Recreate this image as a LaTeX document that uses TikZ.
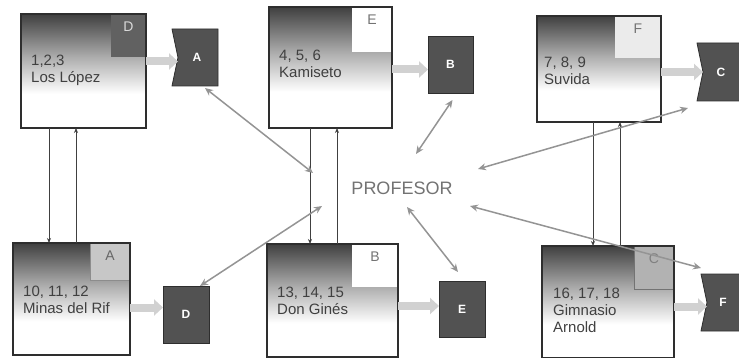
\documentclass[tikz,border=0pt]{standalone}
\usepackage{fontspec}
\setmainfont{Liberation Sans}
\usetikzlibrary{arrows.meta,calc}
\pgfdeclareverticalshading{boxshade}{100bp}{color(0bp)=(white); color(25bp)=(white); color(40bp)=(white); color(56bp)=(black!32); color(75bp)=(black!75); color(100bp)=(black!75)}
\begin{document}
\begin{tikzpicture}[x=1pt,y=-1pt,
  box/.style={shading=boxshade, anchor=north west, inner sep=0pt, outer sep=0pt},
  boxline/.style={draw=black!82, line width=2.6pt},
  corner/.style={anchor=north east, inner sep=0pt, outer sep=0pt},
  cletter/.style={anchor=north, inner sep=0pt, font=\fontsize{14}{16}\selectfont},
  boxtext/.style={anchor=north west, inner sep=0pt, align=left, text=black!75, font=\fontsize{15}{17}\selectfont},
  sq/.style={anchor=north west, inner sep=0pt, outer sep=0pt, fill=black!68, draw=black!82, line width=0.8pt, text=white, font=\bfseries\fontsize{12}{14}\selectfont},
  sqframe/.style={anchor=north west, inner sep=0pt, outer sep=0pt},
  sqfill/.style={fill=black!68, draw=black!82, line width=0.8pt},
  sqtext/.style={text=white, font=\bfseries\fontsize{12}{14}\selectfont, inner sep=0pt},
  fat/.style={draw=black!18, line width=8pt, -{Triangle[length=9pt,width=16pt]}},
  link/.style={draw=black!75, line width=1pt, -{Stealth[length=5pt,width=4pt]}},
  dbl/.style={draw=black!42, line width=1.5pt, {Stealth[length=8pt,width=7pt]}-{Stealth[length=8pt,width=7pt]}}
]
\useasboundingbox (0,0) rectangle (739,358);
\fill[white] (0,0) rectangle (739,358);

% ---- big boxes
\node[box, minimum width=125pt, minimum height=114pt] (b1) at (21,14) {};
\node[box, minimum width=123pt, minimum height=121pt] (b2) at (269,7) {};
\node[box, minimum width=124pt, minimum height=106pt] (b3) at (537,16) {};
\node[box, minimum width=117pt, minimum height=112pt] (b4) at (13,243) {};
\node[box, minimum width=131pt, minimum height=113pt] (b5) at (267,244) {};
\node[box, minimum width=132pt, minimum height=112pt] (b6) at (542,246) {};

% ---- corner squares
\node[corner, fill=black!62, minimum width=35pt, minimum height=43pt] (cD) at (b1.north east) {};
\node[corner, fill=white, minimum width=40pt, minimum height=45pt] (cE) at (b2.north east) {};
\node[corner, fill=black!8, minimum width=46pt, minimum height=42pt] (cF) at (b3.north east) {};
\node[corner, fill=black!22, draw=black!45, line width=0.6pt, minimum width=40pt, minimum height=37pt] (cA) at (b4.north east) {};
\node[corner, fill=white, minimum width=46pt, minimum height=43pt] (cB) at (b5.north east) {};
\node[corner, fill=black!30, draw=black!55, line width=0.6pt, minimum width=40pt, minimum height=43pt] (cC) at (b6.north east) {};

\node[cletter, text=black!15] (lD) at ([yshift=-8pt]cD.north) {D};
\node[cletter, text=black!55] (lE) at ([yshift=-8pt]cE.north) {E};
\node[cletter, text=black!55] (lF) at ([yshift=-8pt]cF.north) {F};
\node[cletter, text=black!60] (lA) at ([yshift=-8pt]cA.north) {A};
\node[cletter, text=black!55] (lB) at ([yshift=-8pt]cB.north) {B};
\node[cletter, text=black!50] (lC) at ([yshift=-8pt]cC.north) {C};

% ---- box borders
\draw[boxline] (b1.south west) rectangle (b1.north east);
\draw[boxline] (b2.south west) rectangle (b2.north east);
\draw[boxline] (b3.south west) rectangle (b3.north east);
\draw[boxline] (b4.south west) rectangle (b4.north east);
\draw[boxline] (b5.south west) rectangle (b5.north east);
\draw[boxline] (b6.south west) rectangle (b6.north east);

% ---- box texts
\node[boxtext] (t1) at ([xshift=10pt,yshift=-41pt]b1.north west) {1,2,3\\Los López};
\node[boxtext] (t2) at ([xshift=10pt,yshift=-43pt]b2.north west) {4, 5, 6\\Kamiseto};
\node[boxtext] (t3) at ([xshift=7pt,yshift=-41pt]b3.north west) {7, 8, 9\\Suvida};
\node[boxtext] (t4) at ([xshift=10pt,yshift=-43pt]b4.north west) {10, 11, 12\\Minas del Rif};
\node[boxtext] (t5) at ([xshift=10pt,yshift=-43pt]b5.north west) {13, 14, 15\\Don Ginés};
\node[boxtext] (t6) at ([xshift=11pt,yshift=-42pt]b6.north west) {16, 17, 18\\Gimnasio\\Arnold};

% ---- letter squares
\node[sqframe, minimum width=46pt, minimum height=57pt] (A) at (172,29) {};
\filldraw[sqfill] (A.north west) -- (A.north east) -- (A.south east) -- (A.south west) -- ([xshift=6pt]A.west) -- cycle;
\node[sqtext] (tA) at ([xshift=2pt]A.center) {A};
\node[sq, minimum width=45pt, minimum height=57pt] (B) at (428,36) {B};
\node[sqframe, minimum width=44pt, minimum height=58pt] (C) at (697,43) {};
\filldraw[sqfill] (C.north west) -- (C.north east) -- (C.south east) -- (C.south west) -- ([xshift=6pt]C.west) -- cycle;
\node[sqtext] (tC) at ([xshift=2pt]C.center) {C};
\node[sq, minimum width=46pt, minimum height=57pt] (D) at (163,286) {D};
\node[sq, minimum width=46pt, minimum height=56pt] (E) at (439,281) {E};
\node[sqframe, minimum width=40pt, minimum height=57pt] (F) at (701,274) {};
\filldraw[sqfill] (F.north west) -- (F.north east) -- (F.south east) -- (F.south west) -- ([xshift=6pt]F.west) -- cycle;
\node[sqtext] (tF) at ([xshift=2pt]F.center) {F};

% ---- fat arrows
\draw[fat] ([yshift=-4pt]b1.east |- A.west) -- ([xshift=6pt,yshift=-4pt]A.west);
\draw[fat] ([yshift=-5pt]b2.east |- B.west) -- ([yshift=-5pt]B.west);
\draw[fat] (b3.east |- C.west) -- ([xshift=6pt]C.west);
\draw[fat] ([yshift=7pt]b4.east |- D.west) -- ([yshift=7pt]D.west);
\draw[fat] ([yshift=3pt]b5.east |- E.west) -- ([yshift=3pt]E.west);
\draw[fat] ([yshift=-4pt]b6.east |- F.west) -- ([xshift=6pt,yshift=-4pt]F.west);

% ---- vertical links
\coordinate (x1) at (49,0);
\coordinate (x2) at (76,0);
\coordinate (x3) at (310,0);
\coordinate (x4) at (337,0);
\coordinate (x5) at (593,0);
\coordinate (x6) at (620,0);
\draw[link] (x1 |- b1.south) -- (x1 |- b4.north);
\draw[link] (x2 |- b4.north) -- (x2 |- b1.south);
\draw[link] (x3 |- b2.south) -- (x3 |- b5.north);
\draw[link] (x4 |- b5.north) -- (x4 |- b2.south);
\draw[link] (x5 |- b3.south) -- (x5 |- b6.north);
\draw[link] (x6 |- b6.north) -- (x6 |- b3.south);

% ---- professor
\node[text=black!55, font=\fontsize{18}{20}\selectfont, inner sep=0pt] (P) at (402,188) {PROFESOR};
\coordinate (pA) at (313,173);
\coordinate (pB) at (416,154);
\coordinate (pC) at (478,169);
\coordinate (pD) at (322,206);
\coordinate (pE) at (407,207);
\coordinate (pF) at (470,206);
\draw[dbl] ([xshift=10pt,yshift=-2pt]A.south) -- (pA);
\draw[dbl] ([xshift=2pt,yshift=-7pt]B.south) -- (pB);
\draw[dbl] ([xshift=-9pt,yshift=-7pt]C.south west) -- (pC);
\draw[dbl] ([xshift=-9pt]D.north east) -- (pD);
\draw[dbl] ([xshift=-4pt,yshift=9pt]E.north) -- (pE);
\draw[dbl] ([yshift=6pt]F.north west) -- (pF);
\end{tikzpicture}
\end{document}
